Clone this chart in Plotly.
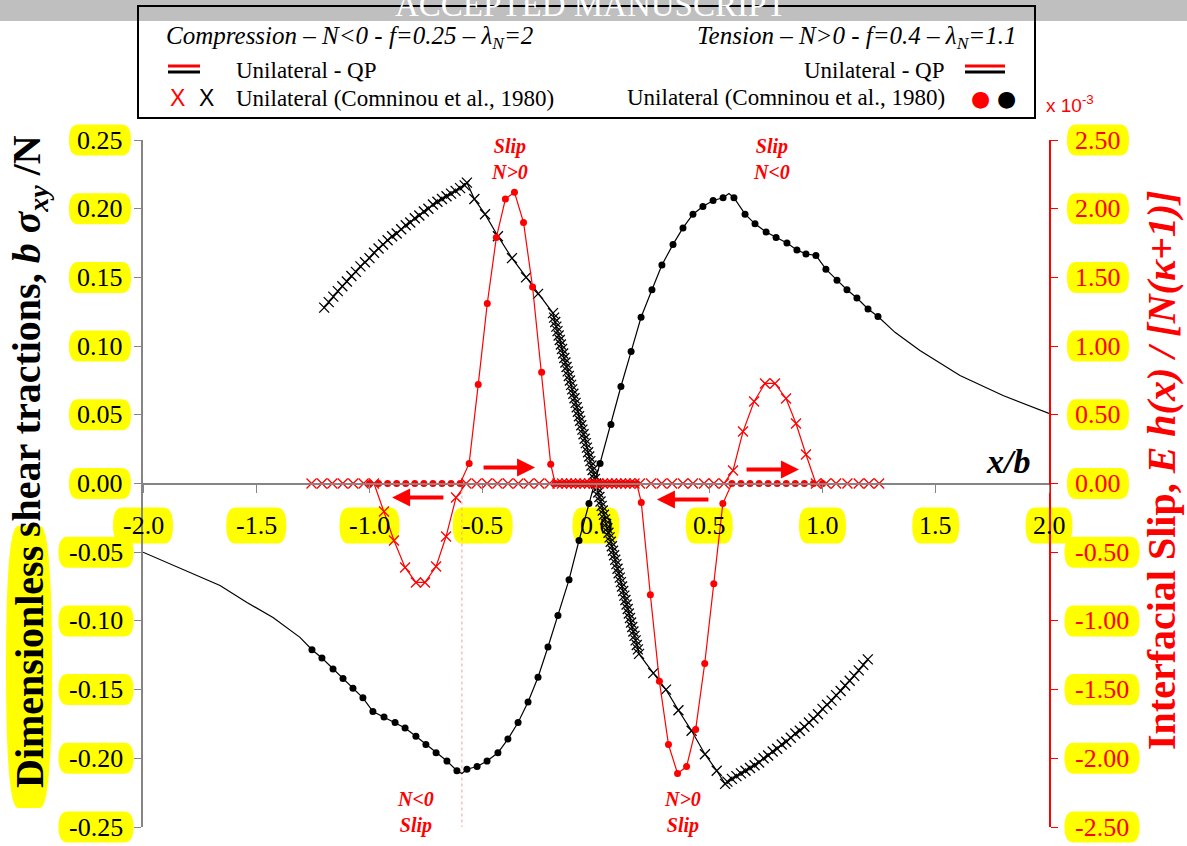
import numpy as np
import plotly.graph_objects as go

# ---------------- data ----------------
# Tension (N>0): dimensionless shear traction, Comninou points
tens_tr_x = [-1.254, -1.210, -1.161, -1.117, -1.073, -1.029, -0.985, -0.936, -0.887, -0.843,
             -0.795, -0.751, -0.706, -0.658, -0.614, -0.570, -0.525, -0.481, -0.433, -0.389,
             -0.344, -0.300, -0.256, -0.212, -0.168, -0.119, -0.075, -0.031, 0.018, 0.066,
             0.110, 0.155, 0.199, 0.247, 0.291, 0.340, 0.384, 0.428, 0.472, 0.517,
             0.561, 0.609, 0.658, 0.702, 0.751, 0.795, 0.843, 0.887, 0.927, 0.971,
             1.015, 1.064, 1.108, 1.152, 1.201, 1.245]
tens_tr_y = [-0.121, -0.127, -0.135, -0.142, -0.149, -0.156, -0.166, -0.170, -0.174, -0.178,
             -0.184, -0.190, -0.196, -0.202, -0.209, -0.208, -0.206, -0.202, -0.196, -0.186,
             -0.174, -0.159, -0.141, -0.119, -0.096, -0.070, -0.0415, -0.0146, 0.0146, 0.043,
             0.0706, 0.096, 0.121, 0.141, 0.159, 0.174, 0.186, 0.196, 0.2016, 0.206,
             0.208, 0.208, 0.196, 0.189, 0.183, 0.179, 0.175, 0.170, 0.167, 0.166,
             0.156, 0.148, 0.141, 0.135, 0.127, 0.1215]
# Tension, QP solution: extra points outside the Comninou range and at the kinks
tens_qp_x = [-2.0, -1.894, -1.779, -1.660, -1.541, -1.426, -1.307, -0.592,
             0.587, 1.32, 1.43, 1.607, 1.797, 2.0]
tens_qp_y = [-0.050, -0.0575, -0.0655, -0.0742, -0.0866, -0.0975, -0.112, -0.211,
             0.211, 0.110, 0.0968, 0.0786, 0.064, 0.051]

# Compression (N<0): dimensionless shear traction
comp_tr_x = [-1.20, -1.18, -1.16, -1.14, -1.12, -1.10, -1.08, -1.06, -1.04, -1.02,
             -1.00, -0.98, -0.96, -0.94, -0.92, -0.90, -0.88, -0.86, -0.84, -0.82,
             -0.80, -0.78, -0.76, -0.74, -0.72, -0.70, -0.68, -0.66, -0.64, -0.62,
             -0.60, -0.58, -0.57,
             -0.537, -0.490, -0.433, -0.371, -0.309, -0.256, -0.190,
             -0.185, -0.180, -0.175, -0.170, -0.165, -0.160, -0.155, -0.150, -0.145, -0.140,
             -0.135, -0.130, -0.125, -0.120, -0.115, -0.110, -0.105, -0.100, -0.095, -0.090,
             -0.085, -0.080, -0.075, -0.070, -0.065, -0.060, -0.055, -0.050, -0.045, -0.040,
             -0.035, -0.030, -0.025, -0.020, -0.015, -0.010, -0.005, 0.000, 0.005, 0.010,
             0.015, 0.020, 0.025, 0.030, 0.035, 0.040, 0.045, 0.050, 0.055, 0.060,
             0.065, 0.070, 0.075, 0.080, 0.085, 0.090, 0.095, 0.100, 0.105, 0.110,
             0.115, 0.120, 0.125, 0.130, 0.135, 0.140, 0.145, 0.150, 0.155, 0.160,
             0.165, 0.170, 0.175, 0.180, 0.185,
             0.190, 0.253, 0.309, 0.364, 0.422, 0.481, 0.533, 0.570,
             0.58, 0.60, 0.62, 0.64, 0.66, 0.68, 0.70, 0.72, 0.74, 0.76,
             0.78, 0.80, 0.82, 0.84, 0.86, 0.88, 0.90, 0.92, 0.94, 0.96,
             0.98, 1.00, 1.02, 1.04, 1.06, 1.08, 1.10, 1.12, 1.14, 1.16,
             1.18, 1.20]
comp_tr_y = [0.128, 0.132, 0.136, 0.140, 0.1435, 0.147, 0.151, 0.154, 0.158, 0.161,
             0.164, 0.168, 0.171, 0.174, 0.177, 0.180, 0.182, 0.185, 0.188, 0.190,
             0.193, 0.195, 0.198, 0.200, 0.203, 0.205, 0.207, 0.209, 0.211, 0.213,
             0.215, 0.217, 0.219,
             0.207, 0.196, 0.180, 0.164, 0.150, 0.138, 0.124,
             0.1207, 0.1175, 0.1142, 0.1109, 0.1077, 0.1044, 0.1012, 0.0979, 0.0946, 0.0914,
             0.0881, 0.0848, 0.0816, 0.0783, 0.0750, 0.0718, 0.0685, 0.0653, 0.0620, 0.0587,
             0.0555, 0.0522, 0.0489, 0.0457, 0.0424, 0.0392, 0.0359, 0.0326, 0.0294, 0.0261,
             0.0228, 0.0196, 0.0163, 0.0131, 0.0098, 0.0065, 0.0033, 0.0000, -0.0033, -0.0065,
             -0.0098, -0.0131, -0.0163, -0.0196, -0.0228, -0.0261, -0.0294, -0.0326, -0.0359, -0.0392,
             -0.0424, -0.0457, -0.0489, -0.0522, -0.0555, -0.0587, -0.0620, -0.0653, -0.0685, -0.0718,
             -0.0750, -0.0783, -0.0816, -0.0848, -0.0881, -0.0914, -0.0946, -0.0979, -0.1012, -0.1044,
             -0.1077, -0.1109, -0.1142, -0.1175, -0.1207,
             -0.124, -0.138, -0.150, -0.165, -0.180, -0.197, -0.209, -0.2186,
             -0.217, -0.215, -0.213, -0.211, -0.209, -0.207, -0.205, -0.203, -0.200, -0.198,
             -0.195, -0.193, -0.190, -0.188, -0.185, -0.182, -0.180, -0.177, -0.174, -0.171,
             -0.168, -0.164, -0.161, -0.158, -0.154, -0.151, -0.147, -0.1435, -0.140, -0.136,
             -0.132, -0.128]

# Compression: interfacial slip (x 10^-3)
comp_slip_x = [-1.256, -1.210, -1.164, -1.118, -1.072, -1.026, -0.980, -0.936, -0.892, -0.843,
               -0.795, -0.755, -0.706, -0.662, -0.618, -0.573, -0.527, -0.481, -0.435, -0.389,
               -0.343, -0.297, -0.251, -0.205, -0.17, -0.15, -0.13, -0.11, -0.09, -0.07,
               -0.05, -0.03, -0.01, 0.01, 0.03, 0.05, 0.07, 0.09, 0.11, 0.13,
               0.15, 0.17, 0.194, 0.243, 0.290, 0.336, 0.384, 0.428, 0.477, 0.520,
               0.565, 0.605, 0.649, 0.698, 0.746, 0.790, 0.839, 0.883, 0.927, 0.971,
               1.015, 1.060, 1.110, 1.160, 1.205, 1.250]
comp_slip_y = [0, 0, 0, 0, 0, 0, 0, -0.204, -0.415, -0.611,
               -0.72, -0.72, -0.604, -0.386, -0.102, 0, 0, 0, 0, 0,
               0, 0, 0, 0, 0, 0, 0, 0, 0, 0,
               0, 0, 0, 0, 0, 0, 0, 0, 0, 0,
               0, 0, 0, 0, 0, 0, 0, 0, 0, 0,
               0, 0.095, 0.378, 0.597, 0.728, 0.728, 0.619, 0.437, 0.211, 0,
               0, 0, 0, 0, 0, 0]

# Tension: interfacial slip (x 10^-3)
tens_slip_x = [-1.00, -0.96, -0.92, -0.88, -0.84, -0.80, -0.76, -0.72, -0.68, -0.64,
               -0.60, -0.56, -0.52, -0.48, -0.44, -0.40, -0.36, -0.32, -0.28, -0.24,
               -0.20, -0.18, -0.16, -0.14, -0.12, -0.10, -0.08, -0.06, -0.04, -0.02,
               0.00, 0.02, 0.04, 0.06, 0.08, 0.10, 0.12, 0.14, 0.16, 0.18,
               0.20, 0.24, 0.28, 0.32, 0.36, 0.40, 0.44, 0.48, 0.52, 0.56,
               0.60, 0.64, 0.68, 0.72, 0.76, 0.80, 0.84, 0.88, 0.92, 0.96,
               1.00]
tens_slip_y = [0, 0, 0, 0, 0, 0, 0, 0, 0, 0,
               0, 0.146, 0.72, 1.31, 1.79, 2.07, 2.12, 1.90, 1.43, 0.81,
               0.14, 0, 0, 0, 0, 0, 0, 0, 0, 0,
               0, 0, 0, 0, 0, 0, 0, 0, 0, 0,
               -0.138, -0.81, -1.44, -1.90, -2.11, -2.06, -1.79, -1.31, -0.73, -0.146,
               0, 0, 0, 0, 0, 0, 0, 0, 0, 0,
               0]

x_ticks = [-2.0, -1.5, -1.0, -0.5, 0.0, 0.5, 1.0, 1.5, 2.0]
y_ticks = [0.25, 0.20, 0.15, 0.10, 0.05, 0.00, -0.05, -0.10, -0.15, -0.20, -0.25]
y2_ticks = [2.5, 2.0, 1.5, 1.0, 0.5, 0.0, -0.5, -1.0, -1.5, -2.0, -2.5]

X_RANGE = (-2.0, 2.0)
Y_RANGE = (-0.25, 0.25)
Y2_RANGE = (-2.5, 2.5)

# ---------------- layout constants ----------------
W, H = 1187, 846
ML, MR, MT, MB = 143, 138, 140, 19
PW, PH = W - ML - MR, H - MT - MB
RED = "#FF0000"
GREY = "#858585"
SERIF = "Liberation Serif, Times New Roman, serif"
SANS = "Liberation Sans, Arial, sans-serif"
YELLOW = "#FFFF00"


def px(xp):
    return (xp - ML) / PW


def py(yp):
    return (H - MB - yp) / PH


def frac(v, rng):
    return (v - rng[0]) / (rng[1] - rng[0])


def slip_line(xs, ys):
    """Keep only the non-zero stretches (plus their end points) for the line."""
    ys = np.asarray(ys, dtype=float)
    nz = ys != 0
    keep = nz.copy()
    keep[1:] |= nz[:-1]
    keep[:-1] |= nz[1:]
    return list(xs), [v if k else None for v, k in zip(ys, keep)]


def pill(xa, ya, cx, cy, w, h, rx):
    # rounded label background anchored in paper units; cx, cy = centre offset
    # in screen pixels (cy grows downward)
    x0, x1 = cx - w / 2, cx + w / 2
    yt, yb, ym = -(cy - h / 2), -(cy + h / 2), -cy
    path = (f"M{x0 + rx},{yt} L{x1 - rx},{yt} Q{x1},{yt} {x1},{ym} "
            f"Q{x1},{yb} {x1 - rx},{yb} L{x0 + rx},{yb} Q{x0},{yb} {x0},{ym} "
            f"Q{x0},{yt} {x0 + rx},{yt} Z")
    return dict(type="path", xref="paper", yref="paper", xsizemode="pixel", ysizemode="pixel",
                xanchor=xa, yanchor=ya, path=path, fillcolor=YELLOW,
                line=dict(width=0), layer="below")


def label(x, y, text, size, color="black", family=SERIF, xshift=0, yshift=0,
          xanchor="center", angle=None, xref="paper", yref="paper"):
    a = dict(x=x, y=y, xref=xref, yref=yref, text=text, showarrow=False,
             xanchor=xanchor, yanchor="middle", xshift=xshift, yshift=yshift,
             font=dict(family=family, size=size, color=color))
    if angle is not None:
        a["textangle"] = angle
    return a


fig = go.Figure()

# tension shear traction: QP line + Comninou dots
qx = np.array(tens_tr_x + tens_qp_x)
qy = np.array(tens_tr_y + tens_qp_y)
order = np.argsort(qx)
fig.add_trace(go.Scatter(x=qx[order], y=qy[order], mode="lines",
                         line=dict(color="black", width=1.2), hoverinfo="skip"))
fig.add_trace(go.Scatter(x=tens_tr_x, y=tens_tr_y, mode="markers",
                         marker=dict(symbol="circle", size=7, color="black")))

# compression shear traction: line + Comninou crosses
fig.add_trace(go.Scatter(x=comp_tr_x, y=comp_tr_y, mode="lines+markers",
                         line=dict(color="black", width=1.2),
                         marker=dict(symbol="x-thin", size=10,
                                     line=dict(color="black", width=1.3))))

# slips (right axis)
lx, ly = slip_line(tens_slip_x, tens_slip_y)
fig.add_trace(go.Scatter(x=lx, y=ly, yaxis="y2", mode="lines", connectgaps=False,
                         line=dict(color=RED, width=1.2)))
fig.add_trace(go.Scatter(x=tens_slip_x, y=tens_slip_y, yaxis="y2", mode="markers",
                         marker=dict(symbol="circle", size=7, color=RED)))
lx, ly = slip_line(comp_slip_x, comp_slip_y)
fig.add_trace(go.Scatter(x=lx, y=ly, yaxis="y2", mode="lines", connectgaps=False,
                         line=dict(color=RED, width=1.2)))
fig.add_trace(go.Scatter(x=comp_slip_x, y=comp_slip_y, yaxis="y2", mode="markers",
                         marker=dict(symbol="x-thin", size=10,
                                     line=dict(color=RED, width=1.3))))

shapes = []
ann = []

# dotted guide at the compression stick/slip boundary
shapes.append(dict(type="line", xref="x", yref="y", x0=-0.592, x1=-0.592, y0=0, y1=-0.25,
                   line=dict(color="#F2A0A0", width=1, dash="dot"), layer="below"))

# tick labels with yellow backgrounds
y_zero = frac(0, Y_RANGE)
for v in x_ticks:
    t = f"{v:.1f}"
    w = 13 * len(t) + 8
    shapes.append(pill(frac(v, X_RANGE), y_zero, 0, 42, w, 36, 9))
    ann.append(label(frac(v, X_RANGE), y_zero, t, 26, yshift=-42))
for v in y_ticks:
    t = f"{abs(v):.2f}" if abs(v) < 1e-9 else f"{v:.2f}"
    w = 13 * len(t) + 10
    dx = -43 - (4 if v < 0 else 0)
    shapes.append(pill(0, frac(v, Y_RANGE), dx, 0, w, 31, 9))
    ann.append(label(0, frac(v, Y_RANGE), t, 26, xshift=dx))
for v in y2_ticks:
    t = f"{abs(v):.2f}" if abs(v) < 1e-9 else f"{v:.2f}"
    w = 13 * len(t) + 10
    dx = 49 + (4 if v < 0 else 0)
    shapes.append(pill(1, frac(v, Y2_RANGE), dx, 0, w, 31, 9))
    ann.append(label(1, frac(v, Y2_RANGE), t, 26, color=RED, xshift=dx))

# axis titles
shapes.append(pill(0, 0, -114, -(827 - 667), 46, 282, 12))
ann.append(label(0, py(667), "<b>Dimensionless</b>", 40, xshift=-114, angle=-90))
ann.append(label(0, py(336), "<b>shear tractions, <i>b σ<sub>xy</sub></i> /N</b>", 40,
                 xshift=-114, angle=-90))
ann.append(label(1, py(470), "<b>Interfacial Slip, <i>E h(x) / [N(κ+1)]</i></b>", 40,
                 color=RED, xshift=112, angle=-90))
ann.append(label(1, py(104), "x 10<sup>-3</sup>", 19, color=RED, family=SANS,
                 xshift=-5, xanchor="left"))
ann.append(label(1.82, 0.016, "<b><i>x/b</i></b>", 34, xref="x", yref="y"))

# slip zone labels
slip_labels = [(-0.38, 0.2365, "Slip<br>N&gt;0"), (0.777, 0.2365, "Slip<br>N&lt;0"),
               (-0.795, -0.2394, "N&lt;0<br>Slip"), (0.38, -0.2394, "N&gt;0<br>Slip")]
for xv, yv, t in slip_labels:
    ann.append(label(xv, yv, f"<b><i>{t}</i></b>", 20, color=RED, xref="x", yref="y"))

# slip direction arrows
arrows = [(-0.269, 0.0116, -0.503), (-0.90, -0.0102, -0.667),
          (0.269, -0.0116, 0.503), (0.896, 0.0102, 0.658)]
for xh, yv, xt in arrows:
    ann.append(dict(x=xh, y=yv, ax=xt, ay=yv, xref="x", yref="y", axref="x", ayref="y",
                    text="", showarrow=True, arrowhead=2, arrowsize=0.9, arrowwidth=4,
                    arrowcolor=RED))

# top banner
shapes.append(dict(type="rect", xref="paper", yref="paper", x0=px(0), x1=px(W),
                   y0=py(21), y1=py(0), fillcolor="#BFBFBF", line=dict(width=0), layer="above"))
ann.append(label(px(590), py(5), "ACCEPTED MANUSCRIPT", 33, color="white"))

# legend box
shapes.append(dict(type="rect", xref="paper", yref="paper", x0=px(138), x1=px(1035),
                   y0=py(118), y1=py(6), line=dict(color="black", width=2), layer="above"))
ann.append(label(px(164), py(37), "<i>Compression – N&lt;0 - f=0.25 – λ<sub>N</sub>=2</i>", 25,
                 xanchor="left"))
ann.append(label(px(1018), py(37), "<i>Tension – N&gt;0 - f=0.4 – λ<sub>N</sub>=1.1</i>", 25,
                 xanchor="right"))
ann.append(label(px(234), py(70), "Unilateral - QP", 23, xanchor="left"))
ann.append(label(px(234), py(98), "Unilateral (Comninou et al., 1980)", 23, xanchor="left"))
ann.append(label(px(947), py(70), "Unilateral - QP", 23, xanchor="right"))
ann.append(label(px(947), py(97), "Unilateral (Comninou et al., 1980)", 23, xanchor="right"))
for x0, x1 in [(168, 200), (965, 1005)]:
    shapes.append(dict(type="line", xref="paper", yref="paper", x0=px(x0), x1=px(x1),
                       y0=py(66), y1=py(66), line=dict(color=RED, width=3), layer="above"))
    shapes.append(dict(type="line", xref="paper", yref="paper", x0=px(x0), x1=px(x1),
                       y0=py(72), y1=py(72), line=dict(color="black", width=3), layer="above"))
for xp_, col in [(177, RED), (206, "black")]:
    ann.append(label(px(xp_), py(98), "X", 23, color=col, family=SANS))
for xp_, col in [(980, RED), (1006, "black")]:
    ann.append(label(px(xp_), py(98), "●", 22, color=col, family="DejaVu Sans"))

fig.update_layout(
    width=W, height=H,
    margin=dict(l=ML, r=MR, t=MT, b=MB, autoexpand=False),
    paper_bgcolor="white", plot_bgcolor="rgba(0,0,0,0)",
    font=dict(family=SERIF),
    showlegend=False,
    xaxis=dict(range=list(X_RANGE), anchor="free", position=0.5, showline=True,
               linecolor=GREY, linewidth=2, ticks="outside", ticklen=8, tickcolor=GREY,
               tickwidth=1, tickvals=x_ticks, showticklabels=False, showgrid=False,
               zeroline=False),
    yaxis=dict(range=list(Y_RANGE), showline=True, linecolor=GREY, linewidth=2,
               ticks="outside", ticklen=7, tickcolor=GREY, tickvals=y_ticks,
               showticklabels=False, showgrid=False, zeroline=False),
    yaxis2=dict(range=list(Y2_RANGE), overlaying="y", side="right", showline=True,
                linecolor=RED, linewidth=2, ticks="outside", ticklen=7, tickcolor=RED,
                tickvals=y2_ticks, showticklabels=False, showgrid=False, zeroline=False),
    shapes=shapes, annotations=ann,
)

fig.write_html("out.html")
